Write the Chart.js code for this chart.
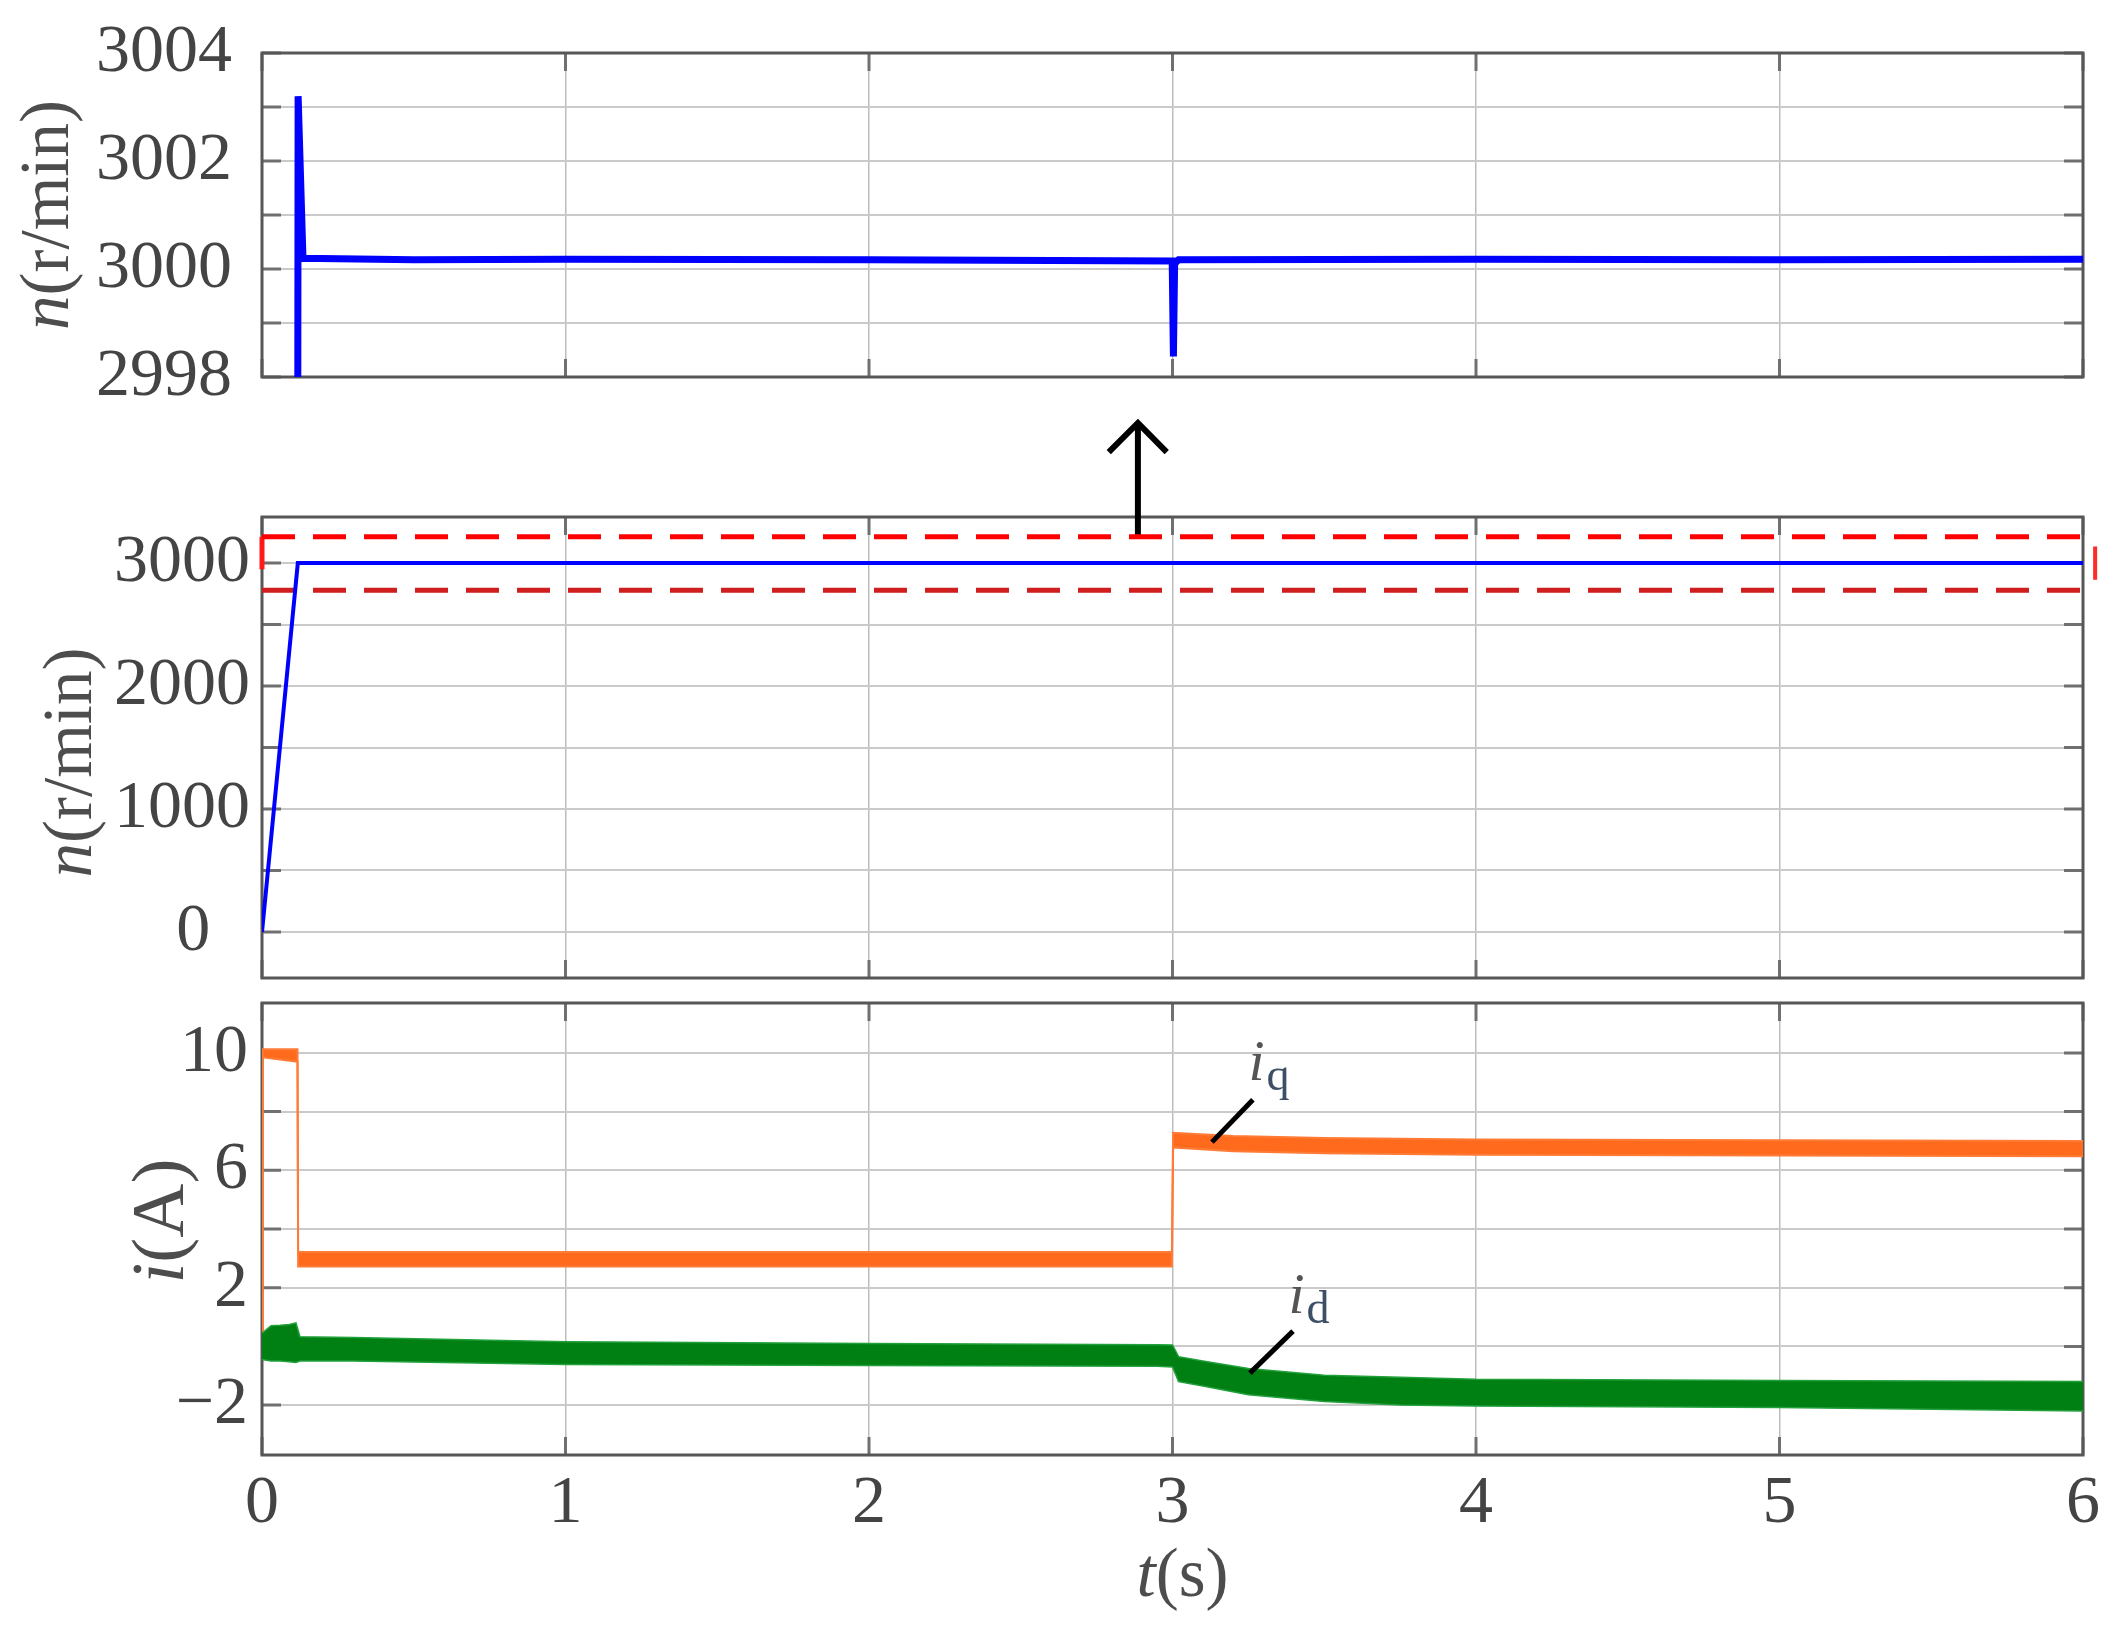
<!DOCTYPE html>
<html>
<head>
<meta charset="utf-8">
<script src="https://cdn.jsdelivr.net/npm/chart.js@4.4.1/dist/chart.umd.min.js"></script>
<style>
  html, body { margin: 0; padding: 0; background: #fff; }
  #wrap { position: relative; width: 2126px; height: 1630px; overflow: hidden; }
  canvas { position: absolute; left: 0; }
</style>
</head>
<body>
<div id="wrap">
  <canvas id="speedZoom" width="2126" height="440" style="top:0px"></canvas>
  <canvas id="speed" width="2126" height="640" style="top:380px"></canvas>
  <canvas id="current" width="2126" height="670" style="top:960px"></canvas>
</div>
<script>
// time axis (s)
const timeTicks = [0, 1, 2, 3, 4, 5, 6];

// top panel: speed zoomed around 3000 r/min
const zoomGrid = [2998, 2999, 3000, 3001, 3002, 3003, 3004];
const zoomLabels = [2998, 3000, 3002, 3004];
const zoomTime  = [0, 0.119, 0.135, 0.5, 1, 2, 2.999, 3.003, 3.007, 3.02, 4, 5, 6];
const zoomSpeed = [0, 3003.2, 3000.2, 3000.17, 3000.18, 3000.17, 3000.15, 2998.38, 3000.1, 3000.17, 3000.18, 3000.17, 3000.18];

// middle panel: full speed
const speedGrid = [0, 500, 1000, 1500, 2000, 2500, 3000];
const speedLabels = [0, 1000, 2000, 3000];
const speedTime  = [0, 0.118, 6];
const speedValue = [0, 3000, 3000];
// dashed zoom window + arrow
const boxTime = [0, 6.02];
const boxUpper = [3215, 3215];
const boxLower = [2780, 2780];
const boxLeftSide = [3215, 2950];
const boxRightSide = [3135, 2865];
const arrowTime = [2.886, 2.886];
const arrowValue = [3215, 4140];
const arrowHeadTime = [2.79, 2.886, 2.981];
const arrowHeadValue = [3903, 4140, 3903];

// bottom panel: currents
const currentGrid = [-2, 0, 2, 4, 6, 8, 10];
const currentLabels = [-2, 2, 6, 10];
const iqTime  = [0, 0.002, 0.117, 0.119, 2.998, 3.002, 3.2, 3.5, 4, 5, 6];
const iqUpper = [0, 10.12, 10.12, 3.22, 3.22, 7.28, 7.17, 7.1, 7.05, 7.02, 7.0];
const iqLower = [0, 9.85, 9.7, 2.72, 2.72, 6.78, 6.65, 6.58, 6.53, 6.5, 6.48];
const idTime  = [0, 0.03, 0.06, 0.09, 0.112, 0.125, 0.3, 1, 2, 2.95, 3.0, 3.02, 3.1, 3.25, 3.5, 3.75, 4, 5, 6];
const idUpper = [0.45, 0.7, 0.72, 0.75, 0.8, 0.33, 0.3, 0.16, 0.1, 0.06, 0.05, -0.35, -0.5, -0.75, -0.98, -1.05, -1.12, -1.16, -1.2];
const idLower = [-0.45, -0.5, -0.5, -0.52, -0.55, -0.5, -0.5, -0.62, -0.65, -0.68, -0.7, -1.2, -1.35, -1.65, -1.88, -2.0, -2.03, -2.08, -2.2];
const iqLeaderTime = [3.13, 3.265];
const iqLeaderValue = [6.96, 8.4];
const idLeaderTime = [3.255, 3.397];
const idLeaderValue = [-0.91, 0.52];

const SERIF = '"Liberation Serif", "Times New Roman", serif';
const LABEL_COLOR = '#444444';
const TITLE_COLOR = '#4d4d4d';
const LABEL_SIZE = 68;
const TITLE_SIZE = 69;

const pts = (xs, ys) => xs.map((x, i) => ({x, y: ys[i]}));
const fontStr = (size, italic) => (italic ? 'italic ' : '') + size + 'px ' + SERIF;
const minus = v => v < 0 ? '\u2212' + Math.abs(v) : String(v);

function richWidth(ctx, parts, size) {
    return parts.reduce((w, p) => {
        ctx.font = fontStr(size, p.italic);
        return w + ctx.measureText(p.text).width;
    }, 0);
}

function drawRich(ctx, parts, size, x, y) {
    ctx.textAlign = 'left';
    ctx.textBaseline = 'alphabetic';
    for (const p of parts) {
        ctx.font = fontStr(size, p.italic);
        ctx.fillText(p.text, x, y);
        x += ctx.measureText(p.text).width;
    }
}

// MATLAB-like frame, inward ticks, titles and i_q / i_d labels
const decor = {
    id: 'decor',
    beforeDatasetsDraw(chart, args, opts) {
        const {ctx, chartArea: a, scales} = chart;
        ctx.save();
        ctx.strokeStyle = '#707070';
        ctx.lineWidth = 3;
        ctx.beginPath();
        for (const t of scales.y.ticks) {
            const y = scales.y.getPixelForValue(t.value);
            ctx.moveTo(a.left, y); ctx.lineTo(a.left + 19, y);
            ctx.moveTo(a.right, y); ctx.lineTo(a.right - 19, y);
        }
        for (const t of scales.x.ticks) {
            const x = scales.x.getPixelForValue(t.value);
            ctx.moveTo(x, a.top); ctx.lineTo(x, a.top + 18);
            ctx.moveTo(x, a.bottom); ctx.lineTo(x, a.bottom - 18);
        }
        ctx.stroke();
        ctx.strokeStyle = '#575757';
        ctx.lineWidth = 3;
        ctx.strokeRect(a.left, a.top, a.right - a.left, a.bottom - a.top);
        ctx.restore();
    },
    afterDraw(chart, args, opts) {
        const {ctx, chartArea: a, scales} = chart;
        ctx.save();
        ctx.fillStyle = TITLE_COLOR;
        if (opts.yTitle) {
            const t = opts.yTitle;
            const size = t.size || TITLE_SIZE;
            const w = richWidth(ctx, t.parts, size);
            ctx.translate(t.x, (a.top + a.bottom) / 2 + t.dy);
            ctx.rotate(-Math.PI / 2);
            drawRich(ctx, t.parts, size, -w / 2, 0);
            ctx.setTransform(1, 0, 0, 1, 0, 0);
        }
        if (opts.xTitle) {
            const t = opts.xTitle;
            const w = richWidth(ctx, t.parts, TITLE_SIZE);
            drawRich(ctx, t.parts, TITLE_SIZE, (a.left + a.right) / 2 + t.dx - w / 2, a.bottom + t.dy);
        }
        for (const lab of (opts.labels || [])) {
            const x = scales.x.getPixelForValue(lab.t);
            const y = scales.y.getPixelForValue(lab.v);
            ctx.fillStyle = '#555';
            drawRich(ctx, [{text: 'i', italic: true}], 58, x, y);
            ctx.fillStyle = '#3d4f66';
            drawRich(ctx, [{text: lab.sub}], 46, x + 18, y + 10);
        }
        ctx.restore();
    }
};

// keep the label overhang from shifting the plot area; the layout padding fixes it
const noOverhang = s => { s.paddingTop = 0; s.paddingBottom = 0; s.paddingLeft = 0; s.paddingRight = 0; };

function panelOptions(p) {
    return {
        responsive: false,
        animation: false,
        events: [],
        layout: {padding: {top: p.top, right: 43, bottom: 0, left: 0}},
        plugins: {
            legend: {display: false},
            tooltip: {enabled: false},
            decor: p.decor
        },
        scales: {
            x: {
                type: 'linear', min: 0, max: 6,
                afterBuildTicks: s => { s.ticks = timeTicks.map(v => ({value: v})); },
                ticks: {
                    display: p.xLabels, autoSkip: false, maxRotation: 0, padding: 8,
                    color: LABEL_COLOR, font: {family: SERIF, size: LABEL_SIZE},
                    callback: v => String(v)
                },
                grid: {color: '#bdbdbd', lineWidth: 1.5, drawTicks: false},
                border: {display: false},
                afterFit: s => { s.height = p.xHeight; noOverhang(s); }
            },
            y: {
                type: 'linear', min: p.yMin, max: p.yMax,
                afterBuildTicks: s => { s.ticks = p.yGrid.map(v => ({value: v})); },
                ticks: {
                    autoSkip: false, padding: p.labelPad,
                    color: LABEL_COLOR, font: {family: SERIF, size: LABEL_SIZE},
                    callback: p.yLabel
                },
                grid: {color: '#cacaca', lineWidth: 2, drawTicks: false},
                border: {display: false},
                afterFit: s => { s.width = 262; noOverhang(s); }
            }
        }
    };
}

const line = (data, color, width, extra) => Object.assign({
    data, borderColor: color, borderWidth: width, pointRadius: 0, tension: 0, fill: false
}, extra || {});

// top: zoomed speed
new Chart(document.getElementById('speedZoom'), {
    type: 'line',
    data: {datasets: [line(pts(zoomTime, zoomSpeed), '#0000ff', 7, {clip: 0})]},
    options: panelOptions({
        top: 53, xHeight: 63, xLabels: false,
        yMin: 2998, yMax: 3004, yGrid: zoomGrid, labelPad: 30,
        yLabel: v => zoomLabels.includes(v) ? String(v) : '',
        decor: {yTitle: {parts: [{text: 'n', italic: true}, {text: '(r/min)'}], x: 68, dy: 0}}
    }),
    plugins: [decor]
});

// middle: speed
new Chart(document.getElementById('speed'), {
    type: 'line',
    data: {datasets: [
        line(pts(speedTime, speedValue), '#0000ff', 4),
        line(pts(boxTime, boxUpper), '#ff0000', 5, {borderDash: [33, 18], clip: false}),
        line(pts(boxTime, boxLower), '#d01d1d', 5, {borderDash: [33, 18], clip: false}),
        line(pts([0, 0], boxLeftSide), '#ff1a1a', 5, {clip: false}),
        line(pts([6.04, 6.04], boxRightSide), '#ff2a2a', 4, {clip: false}),
        line(pts(arrowTime, arrowValue), '#000000', 6, {clip: false, borderCapStyle: 'butt'}),
        line(pts(arrowHeadTime, arrowHeadValue), '#000000', 6, {clip: false, borderJoinStyle: 'miter'})
    ]},
    options: panelOptions({
        top: 137, xHeight: 42, xLabels: false,
        yMin: -375, yMax: 3375, yGrid: speedGrid, labelPad: 12,
        yLabel: v => speedLabels.includes(v) ? (v === 0 ? '0\u2002\u200A' : String(v)) : '',
        decor: {yTitle: {parts: [{text: 'n', italic: true}, {text: '(r/min)'}], x: 91, dy: 15}}
    }),
    plugins: [decor]
});

// bottom: i_q and i_d
new Chart(document.getElementById('current'), {
    type: 'line',
    data: {datasets: [
        line(pts(iqLeaderTime, iqLeaderValue), '#000000', 5),
        line(pts(idLeaderTime, idLeaderValue), '#000000', 5),
        line(pts(idTime, idUpper), '#22a03c', 1.5),
        line(pts(idTime, idLower), '#22a03c', 1.5, {fill: '-1', backgroundColor: '#007f12'}),
        line(pts(iqTime, iqUpper), '#ff7b36', 2),
        line(pts(iqTime, iqLower), '#ff7b36', 2, {fill: '-1', backgroundColor: '#ff6a1c'})
    ]},
    options: panelOptions({
        top: 43, xHeight: 175, xLabels: true,
        yMin: -3.7, yMax: 11.7, yGrid: currentGrid, labelPad: 14,
        yLabel: v => currentLabels.includes(v) ? minus(v) : '',
        decor: {
            yTitle: {parts: [{text: 'i', italic: true}, {text: '(A)'}], x: 183, dy: -8, size: 75},
            xTitle: {parts: [{text: 't', italic: true}, {text: '(s)'}], dx: 10, dy: 141},
            labels: [{t: 3.25, v: 9.08, sub: 'q'}, {t: 3.382, v: 1.14, sub: 'd'}]
        }
    }),
    plugins: [decor]
});
</script>
</body>
</html>
